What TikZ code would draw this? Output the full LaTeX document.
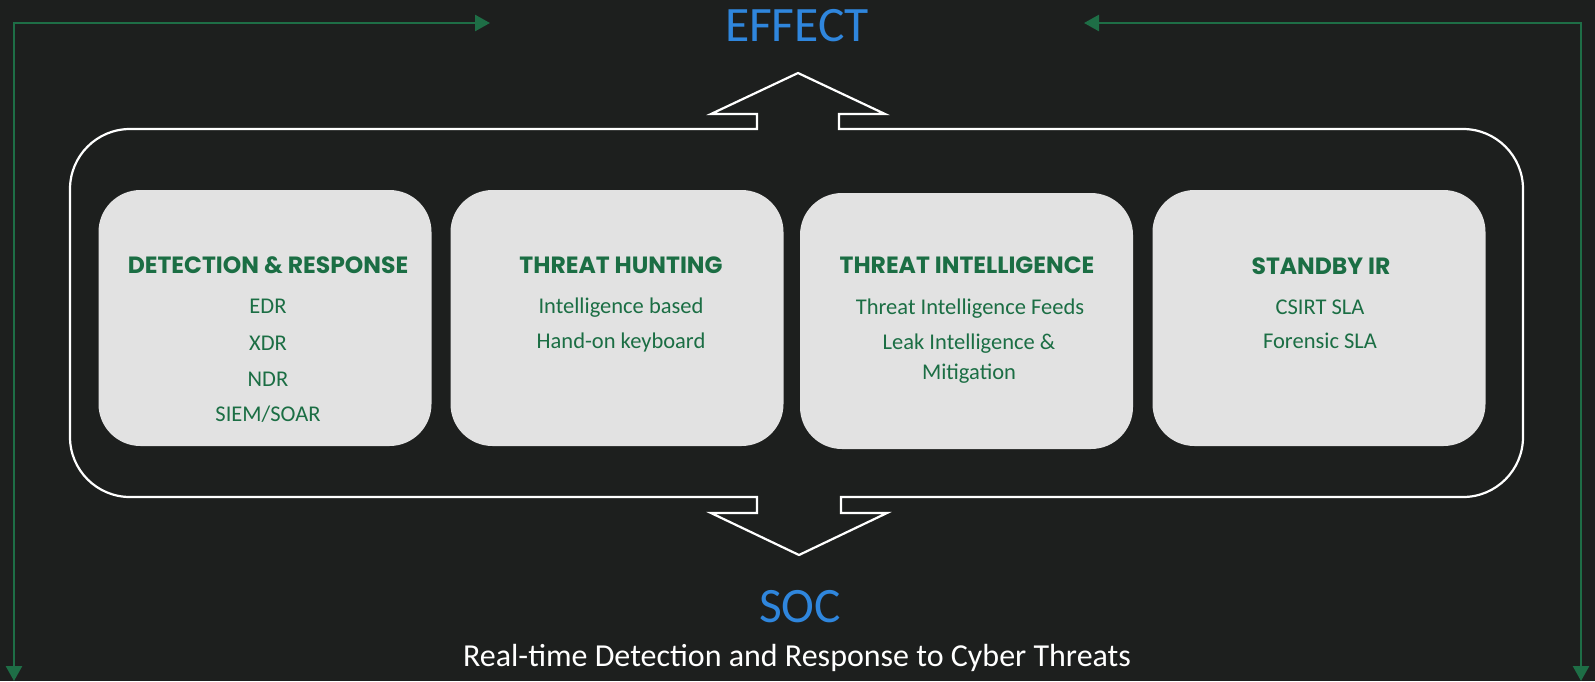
\documentclass[tikz,border=0pt]{standalone}
\usepackage{fontspec}
\setmainfont{Carlito}
\newfontfamily\titlefont{Poppins}[UprightFont=* Bold]
\usetikzlibrary{arrows.meta}
\definecolor{bgc}{RGB}{29,31,30}
\definecolor{loopgreen}{RGB}{30,110,70}
\definecolor{boxfill}{RGB}{226,226,226}
\definecolor{txtgreen}{RGB}{27,110,68}
\definecolor{headblue}{RGB}{47,134,221}
\tikzset{
  box/.style={fill=boxfill, rounded corners=42pt, minimum width=333pt, minimum height=256pt, inner sep=0pt},
  boxtitle/.style={anchor=base, text=txtgreen, font=\titlefont\fontsize{23.5}{28}\selectfont, inner sep=0pt},
  boxline/.style={anchor=base, text=txtgreen, font=\fontsize{22.5}{27}\selectfont, inner sep=0pt},
  headline/.style={anchor=base, text=headblue, font=\fontsize{49.5}{60}\selectfont, inner sep=0pt},
  subline/.style={anchor=base, text=white, font=\fontsize{32}{40}\selectfont, inner sep=0pt},
  loop/.style={draw=loopgreen, line width=2.5pt, {Triangle[length=15pt,width=16pt]}-{Triangle[length=15pt,width=16pt]}},
  frame/.style={draw=white, line width=2.2pt, line join=miter}
}
\begin{document}
\begin{tikzpicture}[x=1pt,y=-1pt]
\fill[bgc] (0,0) rectangle (1595,681);
\useasboundingbox (0,0) rectangle (1595,681);

% feedback loops
\coordinate (lb) at (14,681);
\coordinate (la) at (490,23);
\coordinate (rb) at (1581,681);
\coordinate (ra) at (1084,23);
\draw[loop] (lb) |- (la);
\draw[loop] (rb) |- (ra);

% frame with double arrow
\draw[frame] (757,129) -- (130,129) .. controls (96.9,129) and (70,155.9) .. (70,189)
  -- (70,437) .. controls (70,470.1) and (96.9,497) .. (130,497)
  -- (757,497) -- (757,513) -- (711,513) -- (799,555) -- (887,513) -- (841,513) -- (841,497)
  -- (1463,497) .. controls (1496.1,497) and (1523,470.1) .. (1523,437)
  -- (1523,189) .. controls (1523,155.9) and (1496.1,129) .. (1463,129)
  -- (839,129) -- (839,114) -- (885,114) -- (798,73) -- (711,114) -- (757,114) -- cycle;

% boxes
\node[box] (b1) at (265,318) {};
\node[box] (b2) at (617,318) {};
\node[box] (b3) at (966.5,321) {};
\node[box] (b4) at (1319,318) {};

% box 1
\node[boxtitle] (t1) at (268,273) {DETECTION \& RESPONSE};
\node[boxline] (t1a) at (268,313) {EDR};
\node[boxline] (t1b) at (268,350) {XDR};
\node[boxline] (t1c) at (268,386) {NDR};
\node[boxline] (t1d) at (268,421) {SIEM/SOAR};
% box 2
\node[boxtitle] (t2) at (621,273) {THREAT HUNTING};
\node[boxline] (t2a) at (621,313) {Intelligence based};
\node[boxline] (t2b) at (621,348) {Hand-on keyboard};
% box 3
\node[boxtitle] (t3) at (967,273) {THREAT INTELLIGENCE};
\node[boxline] (t3a) at (970,314) {Threat Intelligence Feeds};
\node[boxline] (t3b) at (969,349) {Leak Intelligence \&};
\node[boxline] (t3c) at (969,379) {Mitigation};
% box 4
\node[boxtitle] (t4) at (1321,274) {STANDBY IR};
\node[boxline] (t4a) at (1320,314) {CSIRT SLA};
\node[boxline] (t4b) at (1320,348) {Forensic SLA};

% headings
\node[headline] (effect) at (797,41) {EFFECT};
\node[headline] (soc) at (800,622) {SOC};
\node[subline] (sub) at (797,666) {Real-time Detection and Response to Cyber Threats};
\end{tikzpicture}
\end{document}
